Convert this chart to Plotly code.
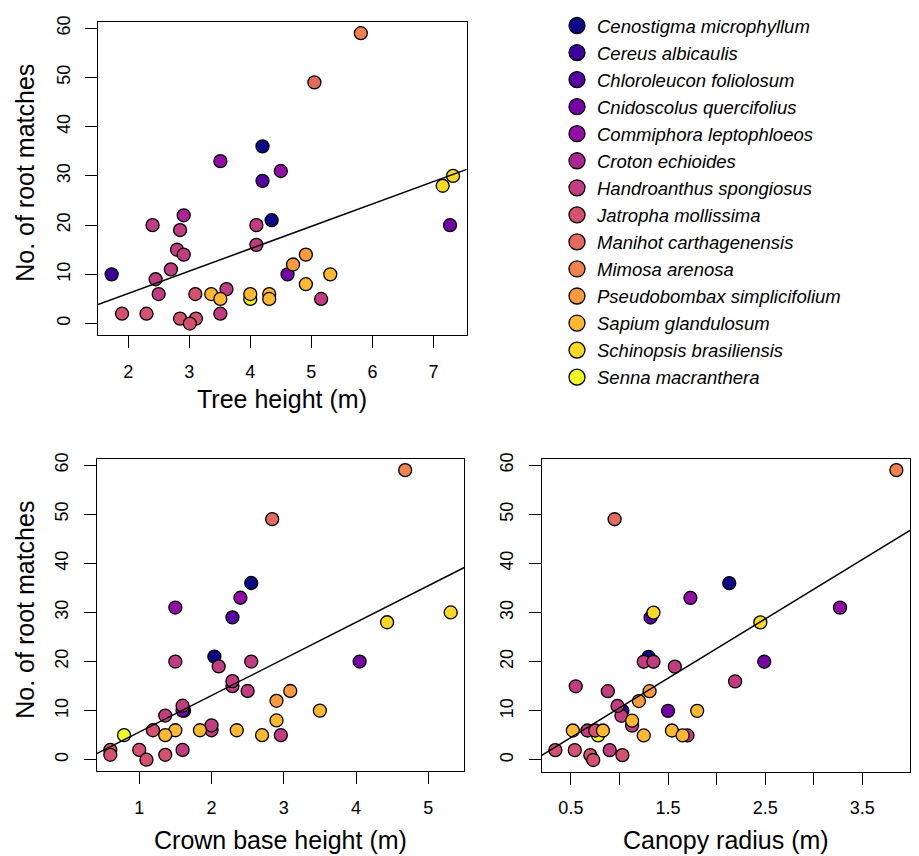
import numpy as np
import plotly.graph_objects as go

# ---------------- data ----------------
species_names = [
    "Cenostigma microphyllum", "Cereus albicaulis", "Chloroleucon foliolosum",
    "Cnidoscolus quercifolius", "Commiphora leptophloeos", "Croton echioides",
    "Handroanthus spongiosus", "Jatropha mollissima", "Manihot carthagenensis",
    "Mimosa arenosa", "Pseudobombax simplicifolium", "Sapium glandulosum",
    "Schinopsis brasiliensis", "Senna macranthera",
]
species_colors = [
    "#0D0887", "#3A049A", "#5702A3", "#7504A7", "#920FA3", "#AC2693", "#C23C81",
    "#D45270", "#E4695E", "#F1814D", "#F99B3D", "#FCB82E", "#F9D824", "#F0F921",
]

obs_species = [
    "Croton echioides",
    "Senna macranthera",
    "Cenostigma microphyllum", "Cenostigma microphyllum",
    "Cereus albicaulis", "Chloroleucon foliolosum",
    "Cnidoscolus quercifolius", "Cnidoscolus quercifolius",
    "Commiphora leptophloeos", "Commiphora leptophloeos",
    "Handroanthus spongiosus", "Handroanthus spongiosus", "Handroanthus spongiosus",
    "Handroanthus spongiosus", "Handroanthus spongiosus", "Handroanthus spongiosus",
    "Handroanthus spongiosus", "Handroanthus spongiosus", "Handroanthus spongiosus",
    "Handroanthus spongiosus", "Handroanthus spongiosus", "Handroanthus spongiosus",
    "Jatropha mollissima", "Jatropha mollissima", "Jatropha mollissima",
    "Jatropha mollissima", "Jatropha mollissima", "Jatropha mollissima",
    "Manihot carthagenensis", "Mimosa arenosa",
    "Pseudobombax simplicifolium", "Pseudobombax simplicifolium",
    "Sapium glandulosum", "Sapium glandulosum", "Sapium glandulosum",
    "Sapium glandulosum", "Sapium glandulosum", "Sapium glandulosum",
    "Sapium glandulosum",
    "Schinopsis brasiliensis", "Schinopsis brasiliensis",
]
root_matches = [
    22,
    5,
    36, 21,
    10, 29,
    10, 20,
    33, 31,
    20, 20, 9, 6, 11, 15, 14, 19, 7, 2, 16, 5,
    2, 2, 1, 1, 0, 6,
    49, 59,
    12, 14,
    10, 8, 6, 6, 6, 5, 5,
    30, 28,
]
tree_height = [
    2.91,
    4.00,
    4.20, 4.35,
    1.73, 4.20,
    4.61, 7.27,
    3.51, 4.50,
    2.40, 4.10, 2.45, 2.50, 2.70, 2.80, 2.91, 2.85, 3.61, 3.51, 4.10, 5.16,
    1.90, 2.30, 2.85, 3.11, 3.01, 3.10,
    5.05, 5.81,
    4.70, 4.91,
    5.31, 4.91, 3.36, 4.00, 4.31, 3.51, 4.31,
    7.32, 7.15,
]
crown_base_height = [
    None,
    0.79,
    2.55, 2.04,
    1.62, 2.29,
    1.60, 4.05,
    2.40, 1.50,
    1.50, 2.55, 1.36, 2.00, 1.60, 2.29, 2.50, 2.10, 2.00, 1.60, 2.29, 2.96,
    0.60, 1.00, 0.60, 1.36, 1.10, 1.19,
    2.84, 4.68,
    2.90, 3.09,
    3.50, 2.90, 1.50, 1.84, 2.35, 1.36, 2.70,
    5.31, 4.43,
]
canopy_radius = [
    None,
    0.78,
    2.13, 1.30,
    1.03, 1.32,
    1.50, 2.49,
    1.73, 3.27,
    1.25, 1.35, 1.02, 0.67, 0.98, 0.55, 0.88, 1.57, 1.13, 0.90, 2.19, 1.70,
    0.34, 0.54, 0.70, 1.03, 0.73, 0.75,
    0.95, 3.85,
    1.20, 1.31,
    1.80, 1.13, 0.52, 0.83, 1.54, 1.25, 1.65,
    1.35, 2.45,
]

y_ticks = [0, 10, 20, 30, 40, 50, 60]
th_ticks = [2, 3, 4, 5, 6, 7]
cbh_ticks = [1, 2, 3, 4, 5]
cr_ticks = [0.5, 1.0, 1.5, 2.0, 2.5, 3.0, 3.5]
cr_ticklabels = ["0.5", "", "1.5", "", "2.5", "", "3.5"]

# ---------------- figure ----------------
W, H = 919, 856
FONT = "Liberation Sans, Arial, Helvetica, sans-serif"
color_of = dict(zip(species_names, species_colors))
pt_colors = [color_of[s] for s in obs_species]


def r_range(vals):
    v = [t for t in vals if t is not None]
    lo, hi = min(v), max(v)
    d = (hi - lo) * 0.04
    return [lo - d, hi + d]


fig = go.Figure()

panels = [
    ("x", "y", tree_height),
    ("x2", "y2", crown_base_height),
    ("x3", "y3", canopy_radius),
]
yr = r_range(root_matches)

for xa, ya, xv in panels:
    fig.add_trace(go.Scatter(
        x=xv, y=root_matches, mode="markers", xaxis=xa, yaxis=ya,
        marker=dict(size=13, color=pt_colors, line=dict(color="black", width=1.3)),
        showlegend=False, hoverinfo="skip"))
    xr = r_range(xv)
    pairs = [(a, b) for a, b in zip(xv, root_matches) if a is not None]
    xs = np.array([p[0] for p in pairs], dtype=float)
    ys = np.array([p[1] for p in pairs], dtype=float)
    slope, icpt = np.polyfit(xs, ys, 1)
    fig.add_trace(go.Scatter(
        x=xr, y=[icpt + slope * xr[0], icpt + slope * xr[1]], mode="lines",
        xaxis=xa, yaxis=ya,
        line=dict(color="black", width=1.5), showlegend=False, hoverinfo="skip"))

# legend-only entries
for name, col in zip(species_names, species_colors):
    fig.add_trace(go.Scatter(
        x=[None], y=[None], mode="markers", name=name,
        marker=dict(size=20, color=col, line=dict(color="black", width=1.3)),
        showlegend=True))


def px_x(p):
    return p / W


def px_y(p):
    return 1 - p / H


axis_common = dict(
    showline=True, linecolor="black", linewidth=1.3, mirror=True,
    ticks="outside", ticklen=12, tickwidth=1.3, tickcolor="black",
    showgrid=False, zeroline=False,
    tickfont=dict(family=FONT, size=18, color="black"),
    ticklabelstandoff=8,
)

fig.update_layout(
    width=W, height=H,
    margin=dict(l=0, r=0, t=0, b=0),
    paper_bgcolor="white", plot_bgcolor="white",
    xaxis=dict(domain=[px_x(98), px_x(466.7)], range=r_range(tree_height),
               tickmode="array", tickvals=th_ticks, anchor="y", **axis_common),
    yaxis=dict(domain=[px_y(331.5), px_y(15.7)], range=yr, tickangle=-90,
               tickmode="array", tickvals=y_ticks, anchor="x", **axis_common),
    xaxis2=dict(domain=[px_x(96.7), px_x(464.3)], range=r_range(crown_base_height),
                tickmode="array", tickvals=cbh_ticks, anchor="y2", **axis_common),
    yaxis2=dict(domain=[px_y(770.7), px_y(455.7)], range=yr, tickangle=-90,
                tickmode="array", tickvals=y_ticks, anchor="x2", **axis_common),
    xaxis3=dict(domain=[px_x(541.7), px_x(910)], range=r_range(canopy_radius),
                tickmode="array", tickvals=cr_ticks, ticktext=cr_ticklabels,
                anchor="y3", **axis_common),
    yaxis3=dict(domain=[px_y(771), px_y(455.7)], range=yr, tickangle=-90,
                tickmode="array", tickvals=y_ticks, anchor="x3", **axis_common),
    legend=dict(x=px_x(557), y=px_y(1), xanchor="left", yanchor="top",
                font=dict(family=FONT, size=18.5, color="black", style="italic"),
                bgcolor="rgba(0,0,0,0)", itemsizing="trace", borderwidth=0),
    showlegend=True,
)

title_font = dict(family=FONT, size=25, color="black")
annots = [
    dict(text="No. of root matches", x=px_x(25), y=px_y(168), textangle=-90),
    dict(text="No. of root matches", x=px_x(25), y=px_y(608), textangle=-90),
    dict(text="Tree height (m)", x=px_x(282), y=px_y(396), textangle=0),
    dict(text="Crown base height (m)", x=px_x(280), y=px_y(840), textangle=0),
    dict(text="Canopy radius (m)", x=px_x(726), y=px_y(840), textangle=0),
]
for a in annots:
    fig.add_annotation(xref="paper", yref="paper", showarrow=False,
                       xanchor="center", yanchor="middle", font=title_font, **a)

fig.write_html("out.html", config={"displayModeBar": False},
               post_script="document.body.style.margin='0px';")
